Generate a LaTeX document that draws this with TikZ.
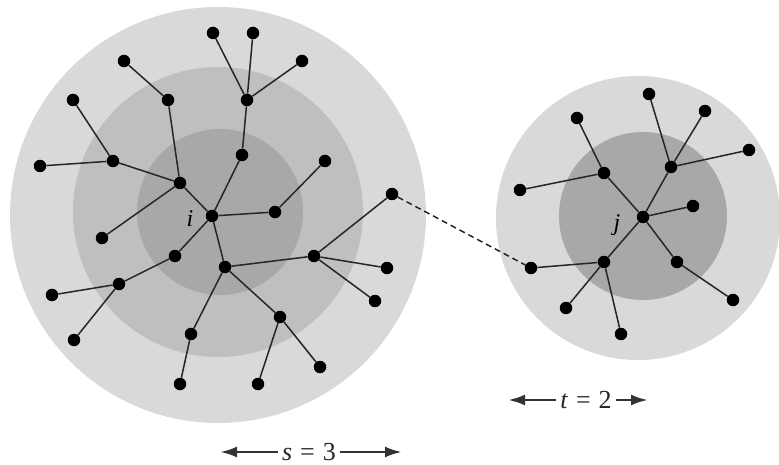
\documentclass[tikz,border=0pt]{standalone}
\usepackage{fontspec}
\setmainfont{Liberation Serif}
\usetikzlibrary{arrows.meta}
\definecolor{ringA}{gray}{0.85}
\definecolor{ringB}{gray}{0.75}
\definecolor{ringC}{gray}{0.66}
\definecolor{edgecol}{gray}{0.15}
\tikzset{
  dot/.style={circle,fill=black,inner sep=0pt,minimum size=12.5pt},
  edge/.style={draw=edgecol,line width=1.5pt},
  dimarrow/.style={draw=black!80,line width=2.8pt,-{Latex[length=17pt,width=11pt]}},
  lbl/.style={font=\fontsize{24}{24}\selectfont\itshape,inner sep=0pt},
  dimlbl/.style={font=\fontsize{26}{26}\selectfont,inner xsep=4pt,inner ysep=0pt,text=black!85}
}
\begin{document}
\begin{tikzpicture}[x=1pt,y=-1pt]
\useasboundingbox (0,0) rectangle (779,465);
% discs
\fill[ringA] (218,215) circle (208);
\fill[ringB] (218,212) circle (145);
\fill[ringC] (220,212) circle (83);
\fill[ringA] (638,218) circle (142);
\fill[ringC] (643,216) circle (84);
% left tree nodes
\node[dot] (i) at (212,216) {};
\node[dot] (a) at (180,183) {};
\node[dot] (a1) at (113,161) {};
\node[dot] (a11) at (40,166) {};
\node[dot] (a12) at (73,100) {};
\node[dot] (a2) at (168,100) {};
\node[dot] (a21) at (124,61) {};
\node[dot] (a3) at (102,238) {};
\node[dot] (b) at (242,155) {};
\node[dot] (b1) at (247,100) {};
\node[dot] (b11) at (213,33) {};
\node[dot] (b12) at (253,33) {};
\node[dot] (b13) at (302,61) {};
\node[dot] (c) at (275,212) {};
\node[dot] (c1) at (325,161) {};
\node[dot] (d) at (175,256) {};
\node[dot] (d1) at (119,284) {};
\node[dot] (d11) at (52,295) {};
\node[dot] (d12) at (74,340) {};
\node[dot] (e) at (225,267) {};
\node[dot] (e1) at (191,334) {};
\node[dot] (e11) at (180,384) {};
\node[dot] (e2) at (314,256) {};
\node[dot] (e21) at (392,194) {};
\node[dot] (e22) at (387,268) {};
\node[dot] (e23) at (375,301) {};
\node[dot] (e3) at (280,317) {};
\node[dot] (e31) at (258,384) {};
\node[dot] (e32) at (320,367) {};
\node[lbl] (ilbl) at (190,219) {i};
% left edges
\draw[edge] (i) -- (a) (a) -- (a1) (a1) -- (a11) (a1) -- (a12)
  (a) -- (a2) (a2) -- (a21) (a) -- (a3)
  (i) -- (b) (b) -- (b1) (b1) -- (b11) (b1) -- (b12) (b1) -- (b13)
  (i) -- (c) (c) -- (c1)
  (i) -- (d) (d) -- (d1) (d1) -- (d11) (d1) -- (d12)
  (i) -- (e) (e) -- (e1) (e1) -- (e11)
  (e) -- (e2) (e2) -- (e21) (e2) -- (e22) (e2) -- (e23)
  (e) -- (e3) (e3) -- (e31) (e3) -- (e32);
% right tree nodes
\node[dot] (j) at (643,217) {};
\node[dot] (f) at (604,173) {};
\node[dot] (f1) at (577,118) {};
\node[dot] (f2) at (520,190) {};
\node[dot] (g) at (671,167) {};
\node[dot] (g1) at (649,94) {};
\node[dot] (g2) at (705,111) {};
\node[dot] (g3) at (749,150) {};
\node[dot] (h) at (693,206) {};
\node[dot] (k) at (604,262) {};
\node[dot] (k1) at (531,268) {};
\node[dot] (k2) at (566,308) {};
\node[dot] (k3) at (621,334) {};
\node[dot] (m) at (677,262) {};
\node[dot] (m1) at (733,300) {};
\node[lbl] (jlbl) at (617,225) {j};
\draw[edge] (j) -- (f) (f) -- (f1) (f) -- (f2)
  (j) -- (g) (g) -- (g1) (g) -- (g2) (g) -- (g3)
  (j) -- (h)
  (j) -- (k) (k) -- (k1) (k) -- (k2) (k) -- (k3)
  (j) -- (m) (m) -- (m1);
% dashed link
\draw[draw=edgecol,line width=1.5pt,dash pattern=on 6pt off 4pt] (e21) -- (k1);
% dimension labels
\node[dimlbl] (tlbl) at (586,400) {\textit{t}\hspace{8pt}=\hspace{8pt}2};
\coordinate (tL) at (508,400);
\coordinate (tR) at (648,400);
\draw[dimarrow] (tlbl.west) -- (tL);
\draw[dimarrow] (tlbl.east) -- (tR);
\node[dimlbl] (slbl) at (309,452) {\textit{s}\hspace{8pt}=\hspace{8pt}3};
\coordinate (sL) at (220,452);
\coordinate (sR) at (402,452);
\draw[dimarrow] (slbl.west) -- (sL);
\draw[dimarrow] (slbl.east) -- (sR);
\end{tikzpicture}
\end{document}
